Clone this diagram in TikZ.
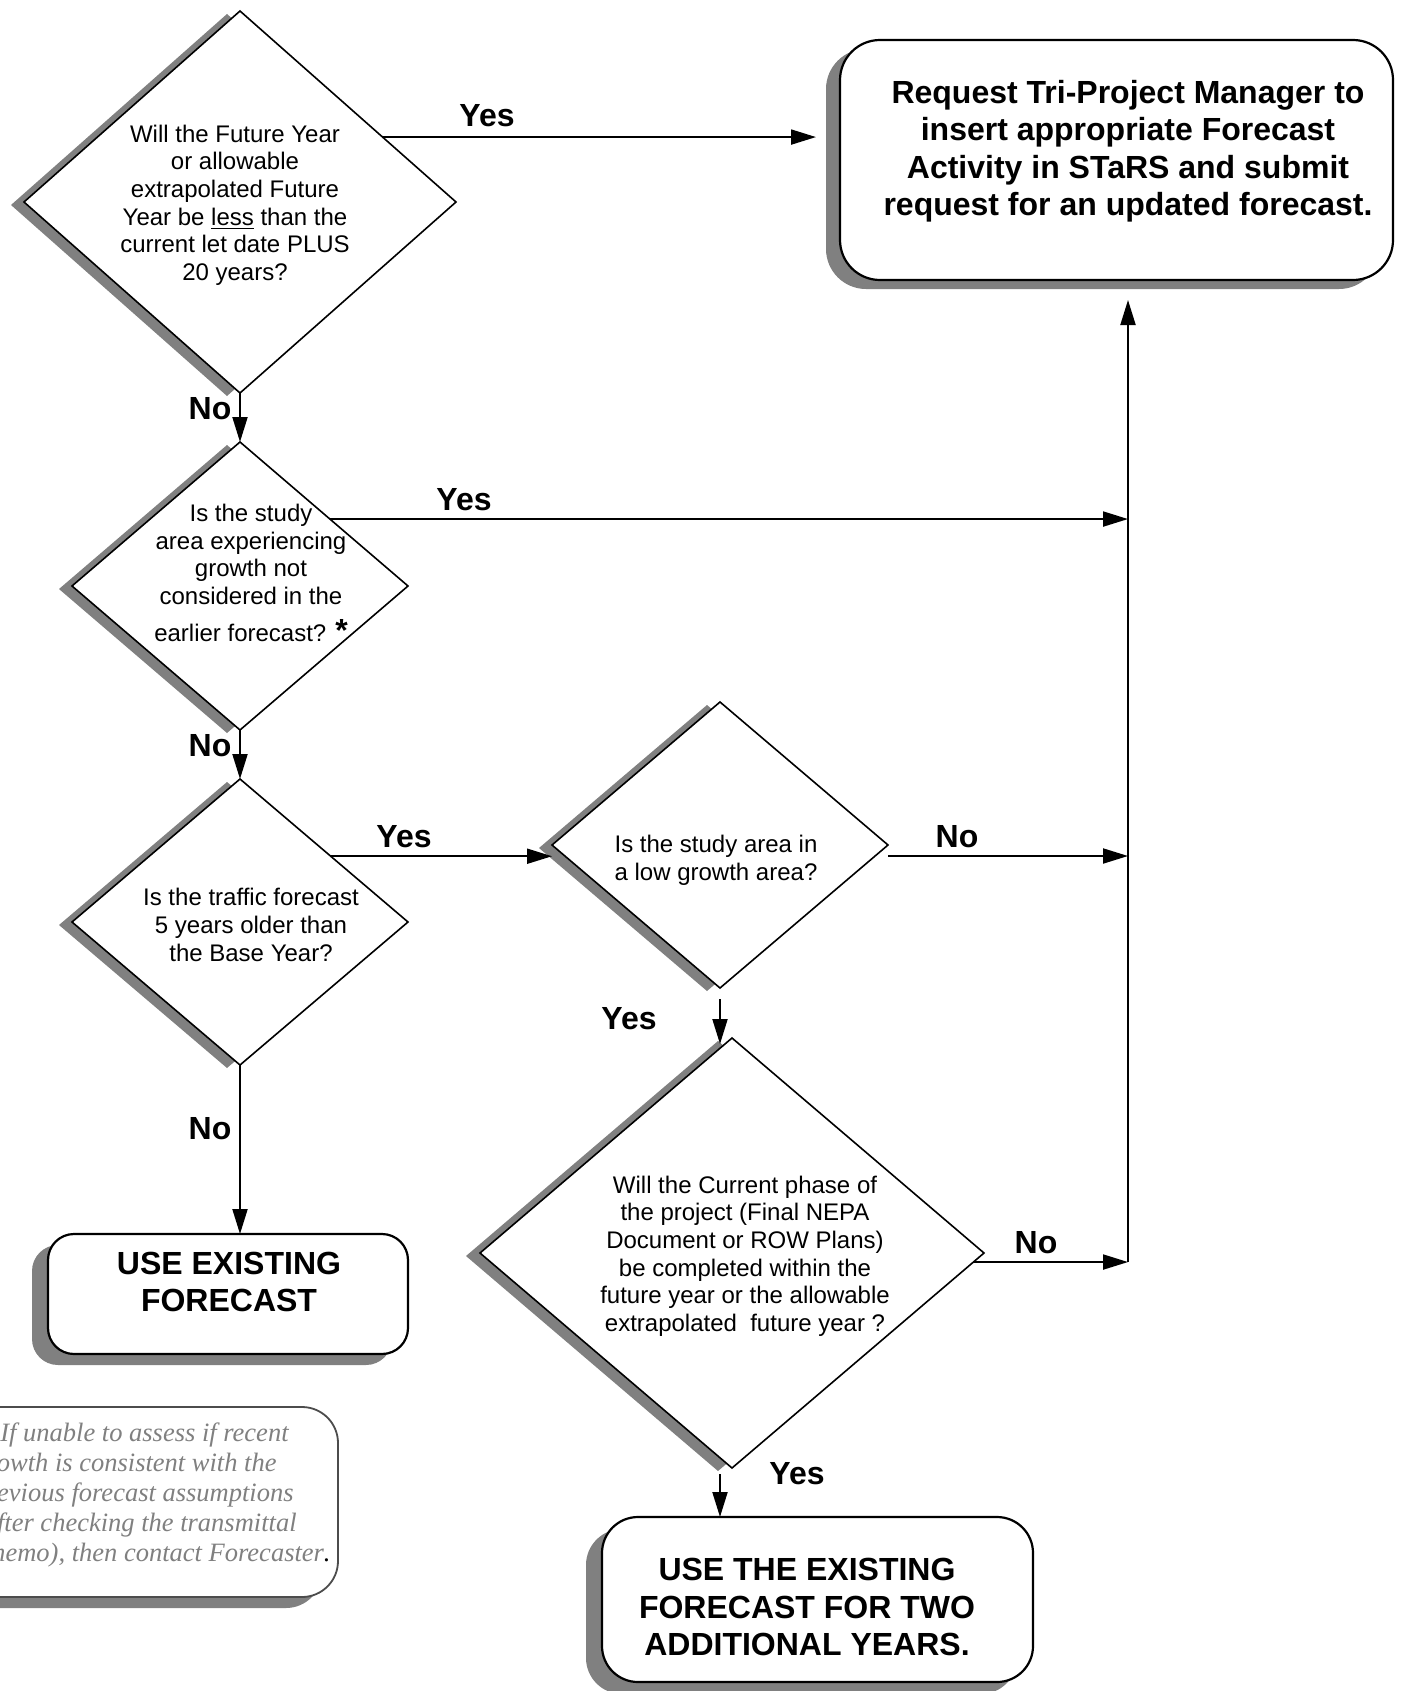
\documentclass[tikz,border=0pt]{standalone}
\usepackage{fontspec}
\setmainfont{Liberation Sans}
\newfontfamily\noteserif{Liberation Serif}
\usetikzlibrary{shapes.geometric,arrows.meta,calc}
\definecolor{shadowgray}{RGB}{128,128,128}
\definecolor{notegray}{RGB}{128,128,128}
\begin{document}
\begin{tikzpicture}[x=0.5pt,y=-0.5pt,
  dia/.style={shape=diamond, draw=black, line width=0.8pt, fill=white, inner sep=0pt, outer sep=0pt},
  diashadow/.style={shape=diamond, fill=shadowgray, draw=none, inner sep=0pt, outer sep=0pt},
  qtext/.style={align=center, font=\fontsize{12}{13.8}\selectfont, inner sep=0pt},
  btext/.style={align=center, font=\bfseries\fontsize{16}{18.75}\selectfont, inner sep=0pt},
  noteline/.style={anchor=base east, font=\noteserif\itshape\fontsize{13.25}{15.1}\selectfont, text=notegray, inner sep=0pt},
  lbl/.style={font=\bfseries\fontsize{16}{18}\selectfont, inner sep=0pt},
  rbox/.style={draw=black, line width=1.1pt, fill=white, rounded corners=#1, inner sep=0pt, outer sep=0pt},
  rboxshadow/.style={fill=shadowgray, draw=none, rounded corners=#1, inner sep=0pt, outer sep=0pt},
  arr/.style={line width=1pt, -{Triangle[length=12.5pt,width=7.5pt]}},
]
\clip (0,0) rectangle (1402,1691);
\fill[white] (0,0) rectangle (1402,1691);

% diamonds
\node[diashadow, minimum width=216pt, minimum height=191pt] (d1s) at (227,205) {};
\node[dia, minimum width=216pt, minimum height=191pt] (d1) at (240,202) {};
\node[diashadow, minimum width=168pt, minimum height=144pt] (d2s) at (227,589) {};
\node[dia, minimum width=168pt, minimum height=144pt] (d2) at (240,586) {};
\node[diashadow, minimum width=168pt, minimum height=143pt] (d3s) at (227,925) {};
\node[dia, minimum width=168pt, minimum height=143pt] (d3) at (240,922) {};
\node[diashadow, minimum width=168pt, minimum height=143pt] (d4s) at (707,848) {};
\node[dia, minimum width=168pt, minimum height=143pt] (d4) at (720,845) {};
\node[diashadow, minimum width=252pt, minimum height=215pt] (d5s) at (718,1256) {};
\node[dia, minimum width=252pt, minimum height=215pt] (d5) at (732,1253) {};

% diamond texts
\node[qtext] (d1t) at (235,205) {Will the Future Year\\or allowable\\extrapolated Future\\Year be \underline{less} than the\\current let date PLUS\\20 years?};
\node[qtext] (d2t) at (251,573) {Is the study\\area experiencing\\growth not\\considered in the\\[4.75pt]earlier forecast? \smash{\bfseries\fontsize{16}{16}\selectfont *}};
\node[qtext] (d3t) at (251,925) {Is the traffic forecast\\5 years older than\\the Base Year?};
\node[qtext] (d4t) at (716,860) {Is the study area in\\a low growth area?};
\node[qtext] (d5t) at (745,1256) {Will the Current phase of\\the project (Final NEPA\\Document or ROW Plans)\\be completed within the\\future year or the allowable\\extrapolated\ \ future year ?};

% boxes
\node[rboxshadow=20pt, minimum width=276.5pt, minimum height=120pt] (b1s) at (1102.5,169) {};
\node[rbox=20pt, minimum width=276.5pt, minimum height=120pt] (b1) at (1116.5,160) {};
\node[btext] (b1t) at (1128,151) {Request Tri-Project Manager to\\insert appropriate Forecast\\Activity in STaRS and submit\\request for an updated forecast.};

\node[rboxshadow=13pt, minimum width=180pt, minimum height=60pt] (b2s) at (212,1305) {};
\node[rbox=13pt, minimum width=180pt, minimum height=60pt] (b2) at (228,1294) {};
\node[btext] (b2t) at (229,1282) {USE EXISTING\\FORECAST};

\node[rboxshadow=18pt, minimum width=215.5pt, minimum height=82.5pt] (b3s) at (801.5,1611.5) {};
\node[rbox=18pt, minimum width=215.5pt, minimum height=82.5pt] (b3) at (817.5,1599.5) {};
\node[btext] (b3t) at (807,1607) {USE THE EXISTING\\FORECAST FOR TWO\\ADDITIONAL YEARS.};

% note
\node[rboxshadow=18pt, minimum width=199pt, minimum height=95pt] (ns) at (123,1513) {};
\node[rbox=18pt, draw=black!70, line width=0.9pt, minimum width=199pt, minimum height=95pt] (nb) at (139,1502) {};
\node[noteline] (n1) at (289,1441) {If unable to assess if recent};
\node[noteline] (n2) at (277,1471) {growth is consistent with the};
\node[noteline] (n3) at (294,1501) {previous forecast assumptions};
\node[noteline] (n4) at (297,1531) {(after checking the transmittal};
\node[noteline] (n5) at (331,1561) {memo), then contact Forecaster\textcolor{black}{.}};

% labels
\node[lbl] (l1) at (487,116) {Yes};
\node[lbl] (l2) at (210,409) {No};
\node[lbl] (l3) at (464,500) {Yes};
\node[lbl] (l4) at (210,746) {No};
\node[lbl] (l5) at (404,837) {Yes};
\node[lbl] (l6) at (957,837) {No};
\node[lbl] (l7) at (629,1019) {Yes};
\node[lbl] (l8) at (210,1129) {No};
\node[lbl] (l9) at (1036,1243) {No};
\node[lbl] (l10) at (797,1474) {Yes};

% connectors
\coordinate (vx) at (1128,0);
\coordinate (p1) at ($(d1.north)!0.66!(d1.east)$);
\draw[arr] (p1) -- ($(p1 -| b1s.west)+(-10,0)$);
\draw[arr] (d1.south) -- (d2.north);
\coordinate (p2) at ($(d2.north)!0.535!(d2.east)$);
\draw[arr] (p2) -- (p2 -| vx);
\draw[arr] (d2.south) -- (d3.north);
\coordinate (p3) at ($(d3.north)!0.54!(d3.east)$);
\draw[arr] (p3) -- (p3 -| d4.west);
\coordinate (p4) at ($(d4.east)+(0,11)$);
\draw[arr] (p4) -- (p4 -| vx);
\coordinate (p5) at ($(d4.south)+(0,11)$);
\draw[arr] (p5) -- ($(p5 |- d5.north)+(0,6)$);
\draw[arr] (d3.south) -- (d3.south |- b2.north);
\coordinate (p6) at ($(d5.east)!0.042!(d5.south)$);
\draw[arr] (p6) -- (p6 -| vx);
\coordinate (vbot) at (p6 -| vx);
\draw[arr] (vbot) -- ($(vbot |- b1s.south)+(0,11)$);
\coordinate (p7) at ($(p5 |- d5.south)+(0,6)$);
\draw[arr] (p7) -- (p7 |- b3.north);
\end{tikzpicture}
\end{document}
